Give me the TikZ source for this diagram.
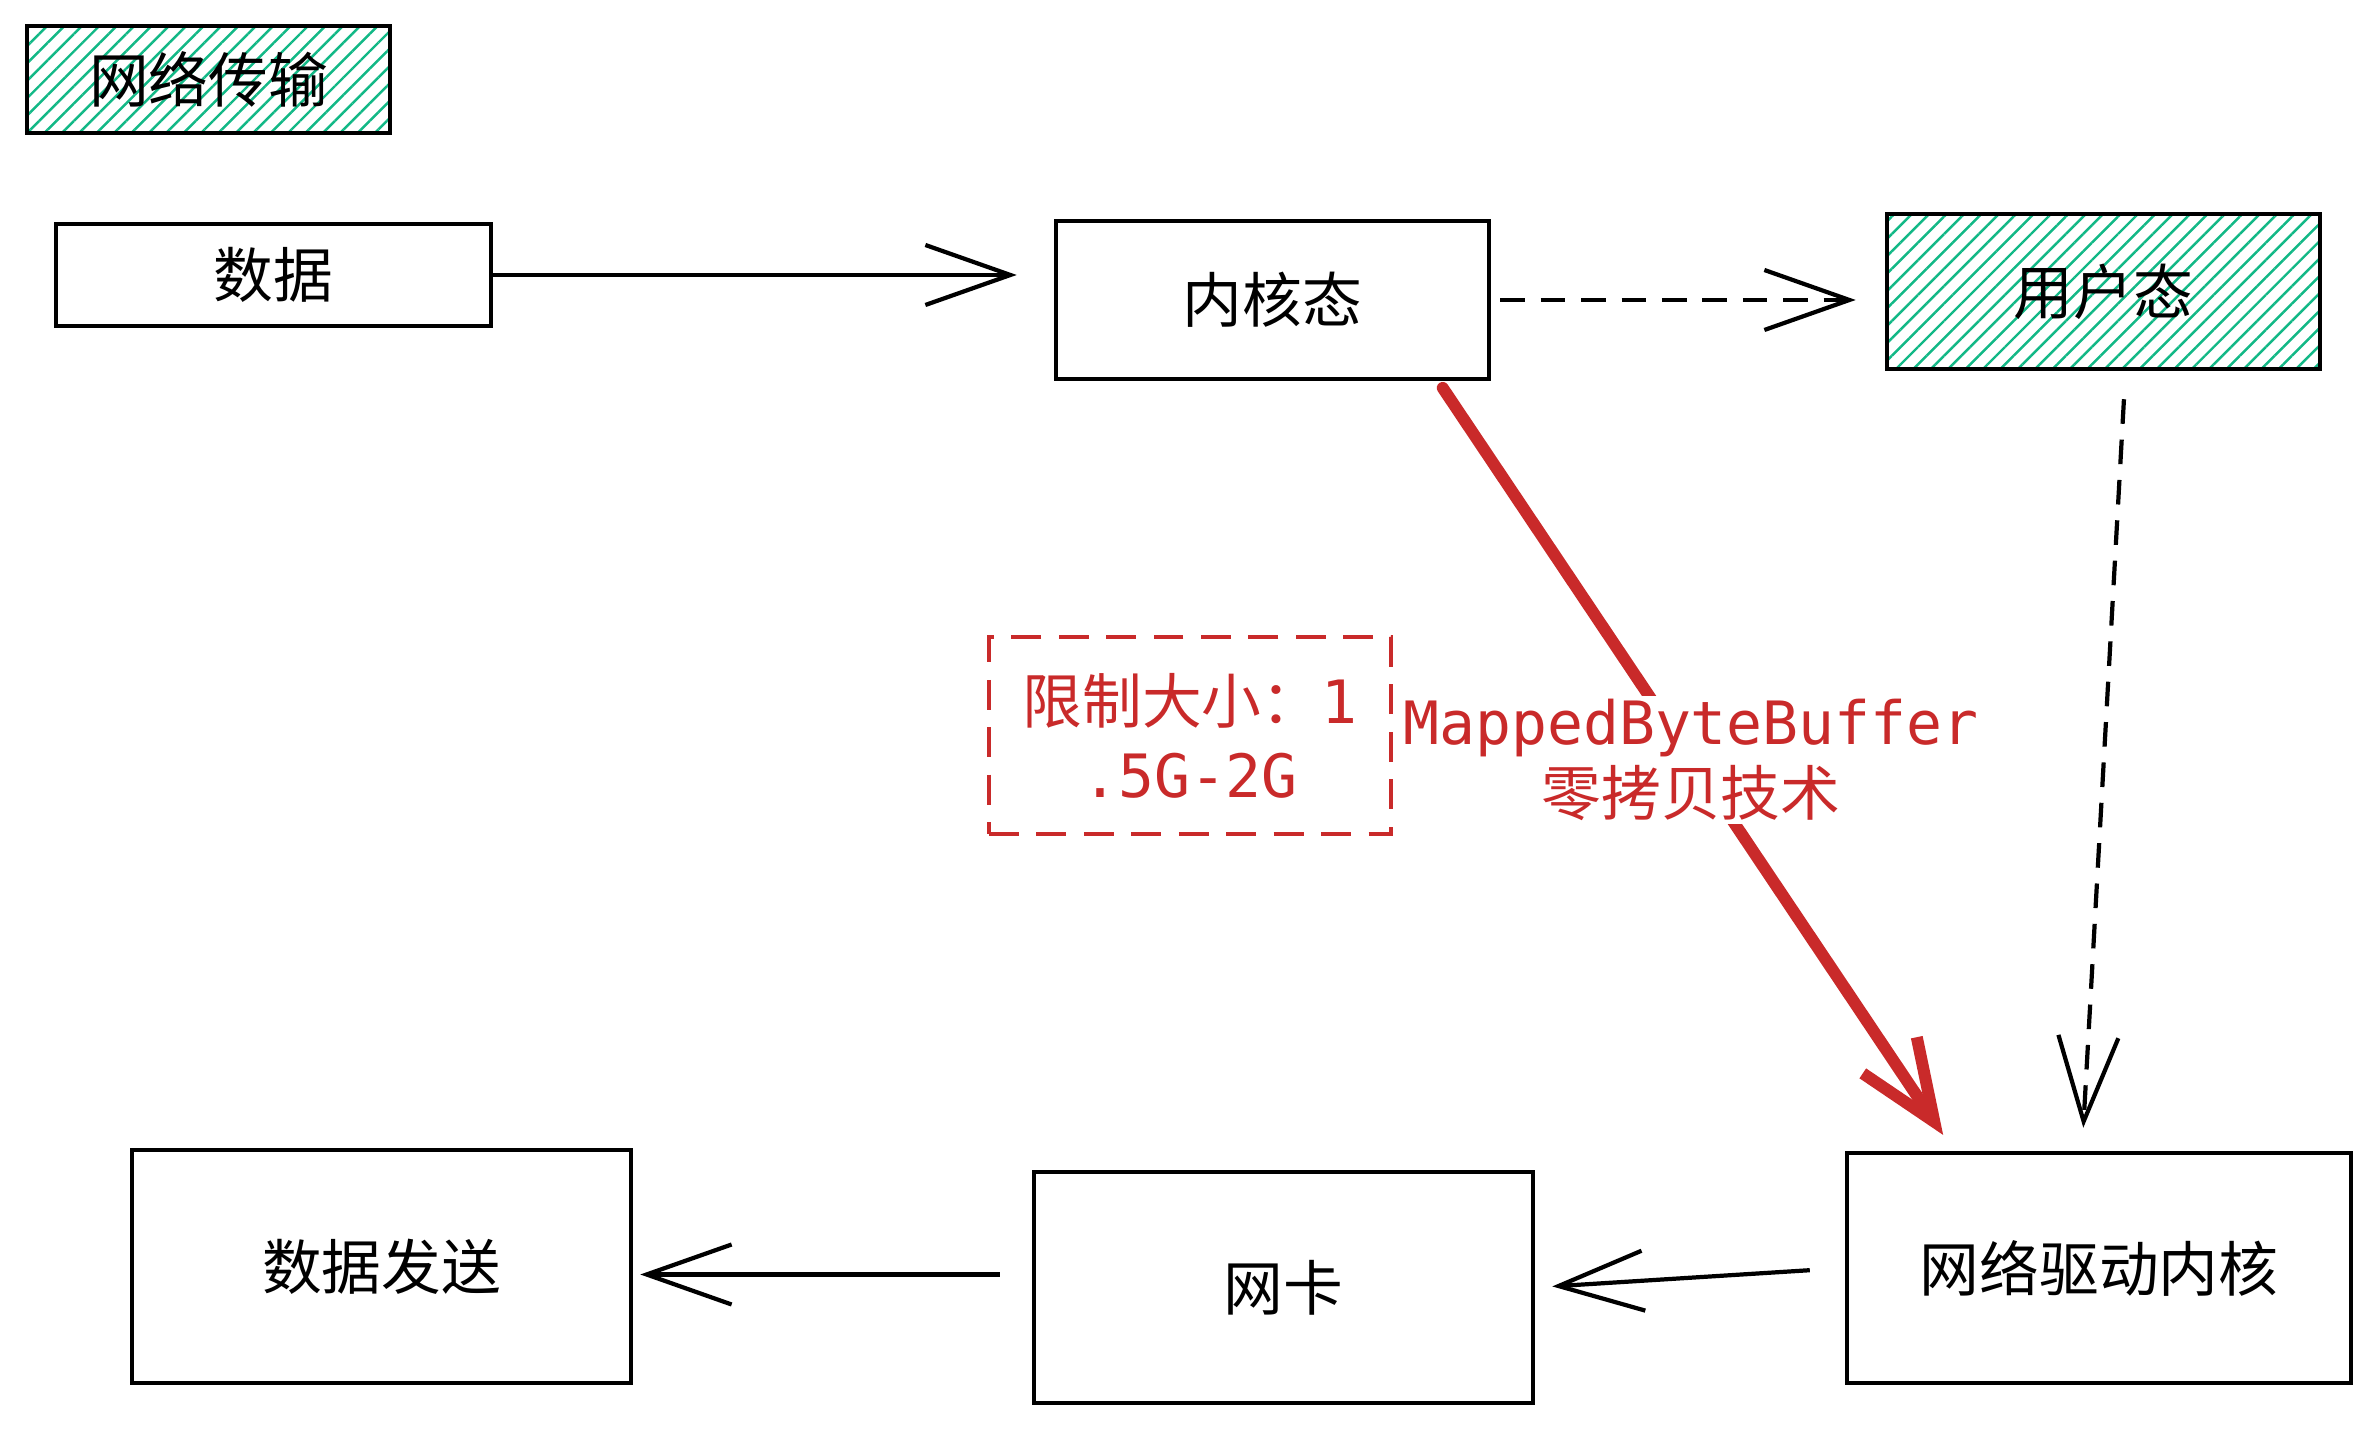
\documentclass[tikz,border=0pt]{standalone}
\usepackage{fontspec}
\setmainfont{Noto Sans CJK SC}
\setmonofont{DejaVu Sans Mono}
\usepackage{tikz}
\usetikzlibrary{arrows.meta}
\usetikzlibrary{patterns.meta}
\definecolor{hatchgreen}{HTML}{12B886}
\definecolor{sketchred}{HTML}{C92A2A}
\tikzset{box/.style={shape=rectangle, draw=black, line width=1.3pt, inner sep=0pt,
    font=\fontsize{17}{21}\selectfont}}
\tikzset{hatched/.style={box, pattern={Lines[angle=45,distance=3.5pt,line width=0.7pt]},
    pattern color=hatchgreen}}
\tikzset{flow/.style={-{Straight Barb[length=0.85cm,width=0.6cm]}, line width=1.2pt}}
\tikzset{dflow/.style={flow, dash pattern=on 7pt off 4.5pt}}
\tikzset{redflow/.style={-{Straight Barb[length=0.8cm,width=0.65cm]}, line width=3.4pt,
    draw=sketchred, line cap=round}}

\begin{document}
\begin{tikzpicture}
    \useasboundingbox (0,0) rectangle (23.78,-14.30);

    \node[hatched, minimum width=3.63cm, minimum height=1.07cm] (title) at (2.085,-0.795) {网络传输};
    \node[box, minimum width=4.35cm, minimum height=1.02cm] (data) at (2.735,-2.75) {数据};
    \node[box, minimum width=4.33cm, minimum height=1.58cm] (kernel) at (12.725,-3.00) {内核态};
    \node[hatched, minimum width=4.33cm, minimum height=1.55cm] (user) at (21.035,-2.915) {用户态};
    \node[box, minimum width=5.04cm, minimum height=2.30cm] (driver) at (20.99,-12.68) {网络驱动内核};
    \node[box, minimum width=4.99cm, minimum height=2.31cm] (nic) at (12.835,-12.875) {网卡};
    \node[box, minimum width=4.99cm, minimum height=2.33cm] (send) at (3.815,-12.665) {数据发送};
    \node[box, draw=sketchred, text=sketchred, dash pattern=on 8.5pt off 5pt, align=center,
        minimum width=4.02cm, minimum height=1.97cm] (limit) at (11.90,-7.355) {限制大小：{\ttfamily 1}\\{\ttfamily .5G-2G}};

    \draw[flow, shorten >=0.37cm] (data.east) -- (data.east -| kernel.west);
    \draw[dflow, shorten <=0.09cm, shorten >=0.29cm] (kernel.east) -- (kernel.east -| user.west);
    \draw[dflow, shorten <=0.28cm, shorten >=0.23cm] ([xshift=0.22cm]user.south) -- ([xshift=-0.17cm]driver.north);
    \draw[redflow, shorten <=0.08cm, shorten >=0.19cm] ([xshift=-0.53cm]kernel.south east) -- ([xshift=1.09cm]driver.north west);
    \draw[flow, shorten <=0.35cm, shorten >=0.17cm] (driver.west) -- (nic.east);
    \draw[flow, shorten <=0.32cm, shorten >=0.07cm] ([yshift=-0.08cm]send.east -| nic.west) -- ([yshift=-0.08cm]send.east);

    \node[fill=white, text=sketchred, align=center, inner sep=1pt,
        font=\fontsize{17}{20}\selectfont] (zerocopy) at (16.91,-7.60) {{\ttfamily MappedByteBuffer}\\零拷贝技术};

\end{tikzpicture}
\end{document}
